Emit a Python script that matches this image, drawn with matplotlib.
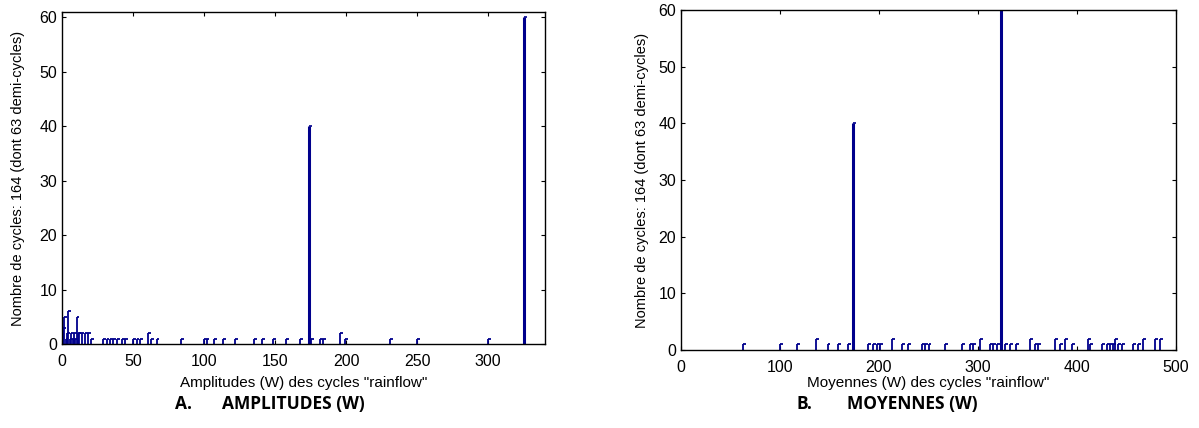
import matplotlib
matplotlib.use("Agg")
import matplotlib.pyplot as plt

plt.rcParams["font.family"] = ["Liberation Sans", "DejaVu Sans"]

# ── Data ────────────────────────────────────────────────────────────────────
amp_x = [0.5, 1.5, 2.5, 3.5, 4.5, 5.5, 6.5, 7.5, 8.5, 9.5, 10.3, 11.2, 12.2,
         13.8, 16.2, 18.5, 20.5, 29, 31.4, 33.8, 36.1, 38.5, 42, 44.3,
         50.1, 52.5, 54.9, 60.7, 63, 66.6, 83.7, 100, 101.8, 107.1, 113.4,
         121.7, 135.2, 140.9, 148.6, 158, 167.4, 174, 175.6, 181.4, 183.8,
         195.5, 199, 231, 250, 300, 325]
amp_h = [3, 5, 1, 2, 6, 1, 2, 1, 2, 1, 5, 2, 2, 2, 2, 2, 1,
         1, 1, 1, 1, 1, 1, 1,
         1, 1, 1, 2, 1, 1, 1, 1, 1, 1, 1,
         1, 1, 1, 1, 1, 1, 40, 1, 1, 1,
         2, 1, 1, 1, 1, 60]

moy_x = [63, 100, 117.5, 136, 148, 159, 169, 174, 189, 194, 197.7, 201,
         212.8, 223, 229.6, 243, 246.5, 250, 266.7, 283.5, 292, 294.6, 302,
         312, 315.5, 319, 323, 327, 332, 338.4, 352.5, 357.6, 360.6, 377.8,
         382.8, 387.9, 394.6, 411.4, 413.5, 425, 430, 433.3, 436.7, 438.4,
         441.7, 445, 456.9, 462, 467, 478.8, 483.8]
moy_h = [1, 1, 1, 2, 1, 1, 1, 40, 1, 1, 1, 1,
         2, 1, 1, 1, 1, 1, 1, 1, 1, 1, 2,
         1, 1, 1, 60, 1, 1, 1, 2, 1, 1, 2,
         1, 2, 1, 2, 1, 1, 1, 1, 1, 2,
         1, 1, 1, 1, 2, 2, 2]

ylabel = "Nombre de cycles: 164 (dont 63 demi-cycles)"
NAVY = "#00008c"


def flag_bars(ax, xs, hs, w):
    """MATLAB-like thin bars: a stem with a short flag on top."""
    tall = [h >= 10 for h in hs]
    ax.vlines([x for x, t in zip(xs, tall) if not t],
              0, [h for h, t in zip(hs, tall) if not t], color=NAVY, lw=1.3)
    ax.hlines([h for h, t in zip(hs, tall) if not t],
              [x for x, t in zip(xs, tall) if not t],
              [x + w for x, t in zip(xs, tall) if not t], color=NAVY, lw=1.3)
    ax.vlines([x for x, t in zip(xs, tall) if t],
              0, [h for h, t in zip(hs, tall) if t], color=NAVY, lw=2.2)
    ax.hlines([h for h, t in zip(hs, tall) if t],
              [x for x, t in zip(xs, tall) if t],
              [x + w for x, t in zip(xs, tall) if t], color=NAVY, lw=1.2)


def style(ax):
    ax.tick_params(direction="in", top=True, right=True, labelsize=11.5,
                   length=3, width=0.8)
    ax.tick_params(axis="x", pad=7)
    for s in ax.spines.values():
        s.set_linewidth(1.0)


fig = plt.figure(figsize=(11.99, 4.28), dpi=100)

ax1 = fig.add_axes([62 / 1199, 84 / 428, 483 / 1199, 332 / 428])
flag_bars(ax1, amp_x, amp_h, 2.0)
ax1.set_xlim(0, 340)
ax1.set_ylim(0, 61)
ax1.set_xticks([0, 50, 100, 150, 200, 250, 300])
ax1.set_yticks([0, 10, 20, 30, 40, 50, 60])
ax1.set_xlabel('Amplitudes (W) des cycles "rainflow"', fontsize=11, labelpad=5)
ax1.set_ylabel(ylabel, fontsize=10.5, labelpad=10)
style(ax1)

ax2 = fig.add_axes([681 / 1199, 78 / 428, 495 / 1199, 340 / 428])
flag_bars(ax2, moy_x, moy_h, 3.0)
ax2.set_xlim(0, 500)
ax2.set_ylim(0, 60)
ax2.set_xticks([0, 100, 200, 300, 400, 500])
ax2.set_yticks([0, 10, 20, 30, 40, 50, 60])
ax2.set_xlabel('Moyennes (W) des cycles "rainflow"', fontsize=11, labelpad=1)
ax2.set_ylabel(ylabel, fontsize=10.5, labelpad=7)
style(ax2)

# captions under each panel
cap = dict(fontsize=12.5, fontweight="bold", va="center", family=["Open Sans", "DejaVu Sans"])
fig.text(175 / 1199, 1 - 404 / 428, "A.", **cap)
fig.text(222 / 1199, 1 - 404 / 428, "AMPLITUDES (W)", **cap)
fig.text(797 / 1199, 1 - 404 / 428, "B.", **cap)
fig.text(847 / 1199, 1 - 404 / 428, "MOYENNES (W)", **cap)

fig.savefig("out.png", dpi=100)
